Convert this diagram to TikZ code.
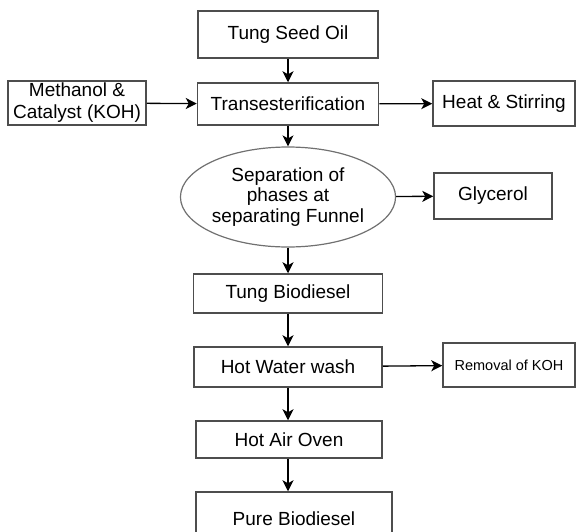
\documentclass[tikz,border=0pt]{standalone}
\usepackage{fontspec}
\setmainfont{Liberation Sans}
\usetikzlibrary{shapes.geometric,arrows.meta}
\definecolor{box_gray}{HTML}{4D4D4D}
\definecolor{oval_gray}{HTML}{707070}

\begin{document}
\begin{tikzpicture}[x=1pt,y=-1pt,
  box/.style={draw=box_gray, line width=1.5pt, inner sep=0pt, align=center,
    font=\fontsize{19}{22}\selectfont},
  flow/.style={line width=1.3pt, -{Stealth[length=11pt,width=11pt,inset=3pt]}}]
  \useasboundingbox (0,0) rectangle (576,531);
  \clip (0,0) rectangle (576,531);

  % Main column
  \node[box, minimum width=180pt, minimum height=47pt] (oil) at (288,34.5) {Tung Seed Oil};
  \node[box, minimum width=181pt, minimum height=42pt] (trans) at (288,104) {Transesterification};
  \node[box, draw=oval_gray, line width=1.2pt, ellipse, minimum width=210pt, minimum height=100pt,
    font=\fontsize{19}{20.5}\selectfont] (sep) at (288,197) {Separation of\\phases at\\separating Funnel};
  \node[box, minimum width=189pt, minimum height=39pt] (tbio) at (288,293.5) {Tung Biodiesel};
  \node[box, minimum width=188pt, minimum height=40pt] (wash) at (288,367) {Hot Water wash};
  \node[box, minimum width=186pt, minimum height=37pt] (oven) at (289,439.5) {Hot Air Oven};
  \node[box, minimum width=196pt, minimum height=54pt] (pure) at (294,519) {Pure Biodiesel};

  % Side boxes
  \node[box, minimum width=138pt, minimum height=44pt] (meth) at (77,103) {Methanol \&\\Catalyst (KOH)};
  \node[box, minimum width=142pt, minimum height=45pt] (heat) at (504,103.5) {Heat \& Stirring};
  \node[box, minimum width=118pt, minimum height=46pt] (gly) at (493,196) {Glycerol};
  \node[box, minimum width=132pt, minimum height=44pt, font=\fontsize{14.5}{17}\selectfont]
    (koh) at (509,365) {Removal of KOH};

  % Arrows
  \draw[flow] (oil.south) -- (oil.south |- trans.north);
  \draw[flow] (meth) -- (trans);
  \draw[flow] (trans) -- (heat);
  \draw[flow] (trans.south) -- (trans.south |- sep.north);
  \draw[flow] (sep) -- (gly);
  \draw[flow] (sep.south) -- (sep.south |- tbio.north);
  \draw[flow] (tbio.south) -- (tbio.south |- wash.north);
  \draw[flow] (wash) -- (koh);
  \draw[flow] (wash.south) -- (wash.south |- oven.north);
  \draw[flow] (wash.south |- oven.south) -- (wash.south |- pure.north);
\end{tikzpicture}
\end{document}
